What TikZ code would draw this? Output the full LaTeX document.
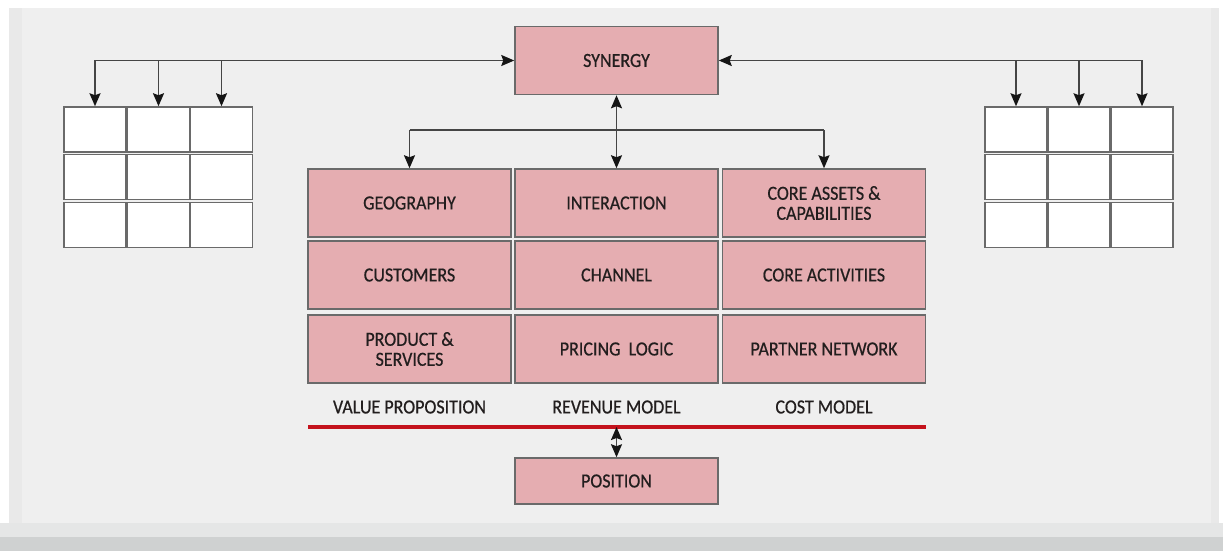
\documentclass[tikz,border=0pt]{standalone}
\usepackage{fontspec}
\setmainfont{Carlito}[FakeStretch=0.9,FakeBold=0.6]
\usetikzlibrary{arrows.meta,calc}
\definecolor{panel}{HTML}{EFEFEF}
\definecolor{paneledge}{HTML}{E9E9E9}
\definecolor{bandlight}{HTML}{E5E6E6}
\definecolor{banddark}{HTML}{CFD1D1}
\definecolor{boxpink}{HTML}{E5ADB1}
\definecolor{boxline}{HTML}{6A6A6A}
\definecolor{txt}{HTML}{221E1E}
\definecolor{wire}{HTML}{454545}
\definecolor{head}{HTML}{151515}
\definecolor{redrule}{HTML}{C4121C}
\tikzset{
  block/.style={draw=boxline, fill=boxpink, line width=1.5pt, text=txt,
    minimum width=203pt, minimum height=68pt, inner sep=0pt, align=center,
    font=\fontsize{20}{20}\selectfont},
  cell/.style={draw=boxline, fill=white, line width=1.5pt,
    minimum width=62pt, minimum height=45pt, inner sep=0pt},
  caption/.style={text=txt, inner sep=0pt, font=\fontsize{20}{20}\selectfont},
  wireline/.style={draw=wire, line width=1.6pt},
  headtip/.tip={Stealth[length=13pt,width=11pt,inset=2pt,color=head]},
  tip/.style={-headtip},
  tips/.style={headtip-headtip},
}
\begin{document}
\begin{tikzpicture}[x=1pt,y=-1pt]
% page and backdrop
\fill[white] (0,0) rectangle (1223,551);
\useasboundingbox (0,0) rectangle (1223,551);
\fill[panel] (9,8) rectangle (1219,523);
\fill[paneledge] (9,8) rectangle (22,523);
\fill[paneledge] (1211,8) rectangle (1219,523);
\fill[bandlight] (0,523) rectangle (1223,537);
\fill[banddark] (0,537) rectangle (1223,551);

% central blocks
\node[block] (syn) at (616.5,60.5) {SYNERGY};
\node[block] (c11) at (409.5,203) {GEOGRAPHY};
\node[block] (c12) at (616.5,203) {INTERACTION};
\node[block] (c13) at (824,203) {CORE ASSETS \&\\CAPABILITIES};
\node[block] (c21) at (409.5,275) {CUSTOMERS};
\node[block] (c22) at (616.5,275) {CHANNEL};
\node[block] (c23) at (824,275) {CORE ACTIVITIES};
\node[block] (c31) at (409.5,349) {PRODUCT \&\\SERVICES};
\node[block] (c32) at (616.5,349) {PRICING\ \ LOGIC};
\node[block] (c33) at (824,349) {PARTNER NETWORK};
\node[block, minimum height=46pt] (pos) at (616.5,481) {POSITION};

% column captions
\node[caption] (v1) at (409.5,407) {VALUE PROPOSITION};
\node[caption] (v2) at (616.5,407) {REVENUE MODEL};
\node[caption] (v3) at (824,407) {COST MODEL};

% left grid of empty cells
\foreach \r/\y in {1/129.5,2/177,3/225}{
  \foreach \c/\x in {1/95,2/158.5,3/221.5}{
    \node[cell] (l\r\c) at (\x,\y) {};
  }
}
% right grid of empty cells
\foreach \r/\y in {1/129.5,2/177,3/225}{
  \foreach \c/\x in {1/1016,2/1079,3/1142}{
    \node[cell] (r\r\c) at (\x,\y) {};
  }
}

% synergy to the left grid
\coordinate (tl) at (l11.north |- syn.west);
\draw[wireline,tip] (tl) -- (syn.west);
\draw[wireline,tip] (tl) -- (l11.north);
\draw[wireline,tip] (l12.north |- syn.west) -- (l12.north);
\draw[wireline,tip] (l13.north |- syn.west) -- (l13.north);

% synergy to the right grid
\coordinate (tr) at (r13.north |- syn.east);
\draw[wireline,tip] (tr) -- (syn.east);
\draw[wireline,tip] (tr) -- (r13.north);
\draw[wireline,tip] (r11.north |- syn.east) -- (r11.north);
\draw[wireline,tip] (r12.north |- syn.east) -- (r12.north);

% synergy to the first row
\coordinate (hy) at (616.5,130);
\draw[wireline,tips] (syn.south) -- (c12.north);
\draw[wireline] (c11.north |- hy) -- (c13.north |- hy);
\draw[wireline,tip] (c11.north |- hy) -- (c11.north);
\draw[wireline,tip] (c13.north |- hy) -- (c13.north);

% red rule and link to position
\coordinate (rl) at (308,427);
\coordinate (rr) at (926,427);
\draw[redrule, line width=3.5pt] (rl) -- (rr);
\coordinate (rm) at (pos.north |- rl);
\draw[wireline,tips] (rm) -- (pos.north);
\end{tikzpicture}
\end{document}
